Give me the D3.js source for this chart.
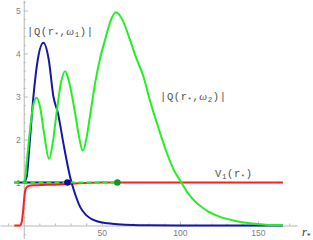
<!DOCTYPE html>
<html>
<head>
<meta charset="utf-8">
<script src="https://cdn.jsdelivr.net/npm/d3@7"></script>
<style>
  html, body { margin: 0; padding: 0; background: #fff; }
  svg { display: block; }
  .tick text { font-family: "Liberation Sans", Arial, sans-serif; font-size: 8.5px; fill: #808080; }
  .curve-label { font-family: "Liberation Mono", "Courier New", monospace; font-size: 10.5px; fill: #505050; letter-spacing: 0.6px; }
  .greek { font-family: "Liberation Serif", serif; font-style: italic; }
</style>
</head>
<body>
<div id="chart"></div>
<script>
const WIDTH = 313;
const HEIGHT = 240;

// V1(r*) potential
const redR = [-6, -2.5, -1.5, -0.5, 0.5, 1.5, 3, 6, 15, 25, 35, 50, 166];
const redV = [0, 0, 0.05, 0.3, 0.7, 0.87, 0.92, 0.935, 0.945, 0.96, 0.985, 1, 1];

// |Q(r*, w1)|
const blueR = [0, 1.9, 3.6, 6.2, 9, 12.6, 16, 19, 22, 25.4, 29.7, 33, 36, 40, 44.6, 50, 54, 60, 70, 80, 100, 130, 166];
const blueV = [1, 1.13, 1.83, 3.0, 3.86, 4.25, 3.86, 3.0, 2.6, 1.91, 1.13, 0.72, 0.44, 0.24, 0.13, 0.07, 0.05, 0.03, 0.01, 0.004, 0, 0, 0];

// |Q(r*, w2)|
const greenR = [0, 1, 2, 4, 6, 8.3, 10.5, 13, 16.2, 18.5, 21, 24, 26.5, 29, 32.9, 35.5, 37.8, 40, 41.4, 43.5, 45.7, 49, 52, 55.5, 59, 63, 68.1, 72, 76.7, 80.5, 85.3, 91.7, 96, 100.6, 105, 110.9, 118, 125.8, 135, 145, 155, 166];
const greenV = [1, 1.12, 1.5, 2.22, 2.78, 2.97, 2.75, 2.15, 1.55, 1.9, 2.61, 3.35, 3.59, 3.35, 2.61, 2.05, 1.74, 2.0, 2.3, 2.8, 3.31, 3.9, 4.31, 4.75, 4.96, 4.8, 4.31, 3.9, 3.46, 2.95, 2.38, 1.68, 1.3, 1.02, 0.76, 0.52, 0.33, 0.2, 0.11, 0.05, 0.02, 0.01];

// asymptotic level and the matching points
const dashLevel = 1;
const dashStart = -6;
const blueDotR = 28;
const greenDotR = 60;

const xTicks = [50, 100, 150];
const yTicks = [1, 2, 3, 4, 5];

const COLORS = {
  red: "#ff1f1f",
  blue: "#1717a6",
  green: "#22f022",
  blueDot: "#0c0c9c",
  greenDot: "#1f8f1f",
  axis: "#b8b8b8"
};

const x = d3.scaleLinear().domain([-15.2, 175]).range([0, 297]);
const y = d3.scaleLinear().domain([-0.3, 5.24]).range([238.4, 0.2]);

const svg = d3.select("#chart")
  .append("svg")
  .attr("width", WIDTH)
  .attr("height", HEIGHT);

function zip(rs, vs) {
  return rs.map((r, i) => ({ r, v: vs[i] }));
}

const line = d3.line()
  .x((d) => x(d.r))
  .y((d) => y(d.v))
  .curve(d3.curveMonotoneX);

// axes, ticks pointing inward like Mathematica
function drawAxes() {
  const xMinor = d3.range(-10, 171, 10).filter((t) => t % 50 !== 0);
  const yMinor = d3.range(-0.2, 5.21, 0.2)
    .map((t) => Math.round(t * 10) / 10)
    .filter((t) => Math.abs(t - Math.round(t)) > 0.01);

  const xAxis = svg.append("g")
    .attr("transform", `translate(0,${y(0)})`)
    .call(d3.axisBottom(x).tickValues(xTicks).tickFormat(d3.format("d"))
      .tickSizeInner(-4).tickSizeOuter(0).tickPadding(4));
  svg.append("g")
    .attr("transform", `translate(0,${y(0)})`)
    .call(d3.axisBottom(x).tickValues(xMinor).tickFormat("").tickSizeInner(-2).tickSizeOuter(0))
    .select(".domain").remove();

  svg.append("g")
    .attr("transform", `translate(${x(0)},0)`)
    .call(d3.axisLeft(y).tickValues(yTicks).tickFormat(d3.format("d"))
      .tickSizeInner(-4).tickSizeOuter(0).tickPadding(3));
  svg.append("g")
    .attr("transform", `translate(${x(0)},0)`)
    .call(d3.axisLeft(y).tickValues(yMinor).tickFormat("").tickSizeInner(-2).tickSizeOuter(0))
    .select(".domain").remove();

  svg.selectAll(".domain, .tick line").attr("stroke", COLORS.axis);
  xAxis.selectAll(".tick text").attr("dy", "0.8em");

  svg.append("text")
    .attr("x", 302)
    .attr("y", 236)
    .attr("font-family", "Liberation Serif, serif")
    .attr("font-style", "italic")
    .attr("font-size", 12)
    .attr("fill", "#333")
    .text("r")
    .append("tspan")
    .attr("dy", 3)
    .attr("font-size", 8)
    .attr("font-style", "normal")
    .text("*");
}

function drawCurves() {
  const curves = [
    { data: zip(redR, redV), color: COLORS.red },
    { data: zip(blueR, blueV), color: COLORS.blue },
    { data: zip(greenR, greenV), color: COLORS.green }
  ];

  svg.append("g")
    .selectAll("path")
    .data(curves)
    .join("path")
    .attr("d", (d) => line(d.data))
    .attr("fill", "none")
    .attr("stroke", (d) => d.color)
    .attr("stroke-width", 2)
    .attr("stroke-linejoin", "round");

  // blue solid underneath, green dashes on top
  svg.append("line")
    .attr("x1", x(dashStart)).attr("x2", x(blueDotR))
    .attr("y1", y(dashLevel)).attr("y2", y(dashLevel))
    .attr("stroke", COLORS.blue)
    .attr("stroke-width", 2);

  svg.append("line")
    .attr("x1", x(dashStart)).attr("x2", x(greenDotR))
    .attr("y1", y(dashLevel)).attr("y2", y(dashLevel))
    .attr("stroke", COLORS.green)
    .attr("stroke-width", 2)
    .attr("stroke-dasharray", "5,3");

  svg.append("circle")
    .attr("cx", x(blueDotR)).attr("cy", y(dashLevel)).attr("r", 3.3)
    .attr("fill", COLORS.blueDot);
  svg.append("circle")
    .attr("cx", x(greenDotR)).attr("cy", y(dashLevel)).attr("r", 3.3)
    .attr("fill", COLORS.greenDot);
}

function qLabel(px, py, index) {
  const t = svg.append("text")
    .attr("class", "curve-label")
    .attr("x", px)
    .attr("y", py);
  t.append("tspan").text("|Q(r");
  t.append("tspan").attr("dy", 2).attr("font-size", 7).text("*");
  t.append("tspan").attr("dy", -2).text(",");
  t.append("tspan").attr("class", "greek").attr("font-size", 11).text("\u03c9");
  t.append("tspan").attr("dy", 2).attr("font-size", 7.5).text(index);
  t.append("tspan").attr("dy", -2).text(")|");
}

function drawLabels() {
  qLabel(27, 35, "1");
  qLabel(160, 100, "2");

  const v = svg.append("text")
    .attr("class", "curve-label")
    .attr("x", 215)
    .attr("y", 177);
  v.append("tspan").text("V");
  v.append("tspan").attr("dy", 2).attr("font-size", 7.5).text("1");
  v.append("tspan").attr("dy", -2).text("(r");
  v.append("tspan").attr("dy", 2).attr("font-size", 7).text("*");
  v.append("tspan").attr("dy", -2).text(")");
}

drawAxes();
drawCurves();
drawLabels();
</script>
</body>
</html>
